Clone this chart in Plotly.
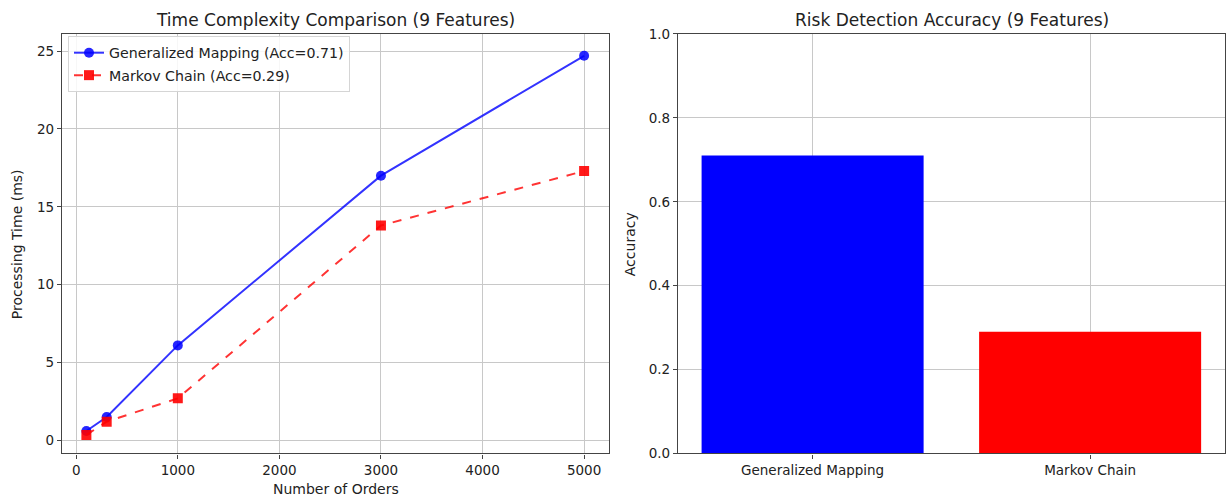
import plotly.graph_objects as go

# ---- data ----
orders = [100, 300, 1000, 3000, 5000]
time_generalized = [0.6, 1.5, 6.1, 17.0, 24.7]
time_markov = [0.35, 1.2, 2.7, 13.8, 17.3]
methods = ["Generalized Mapping", "Markov Chain"]
accuracy = [0.71, 0.29]
bar_colors = ["#0000ff", "#ff0000"]

W, H = 1226, 499
FONT = "DejaVu Sans"
TXT = "#222222"
GRID = "#c8c8c8"
SPINE = "#444444"

# empirical vertical correction (observed render = 5.94 + 0.9714 * spec)
VA, VB = 5.94, 0.9714


def px_x(p):
    return p / W


def px_y(p):
    q = (p - VA) / VB
    return (H - q) / H


fig = go.Figure()

fig.add_trace(go.Scatter(
    x=orders, y=time_generalized, mode="lines+markers",
    name="Generalized Mapping (Acc=0.71)", legendgroup="a",
    line=dict(color="rgba(0,0,255,0.8)", width=2),
    marker=dict(symbol="circle", size=10, color="rgba(0,0,255,0.85)"),
    xaxis="x", yaxis="y",
))
fig.add_trace(go.Scatter(
    x=orders, y=time_markov, mode="lines+markers",
    name="Markov Chain (Acc=0.29)", legendgroup="b",
    line=dict(color="rgba(255,0,0,0.8)", width=2, dash="dash"),
    marker=dict(symbol="square", size=10, color="rgba(255,0,0,0.9)"),
    xaxis="x", yaxis="y",
))
fig.add_trace(go.Bar(
    x=methods, y=accuracy, marker=dict(color=bar_colors, line=dict(width=0)),
    width=0.8, showlegend=False, xaxis="x2", yaxis="y2",
))

axis_common = dict(
    showline=True, linecolor=SPINE, linewidth=1.2, mirror=True,
    showgrid=True, gridcolor=GRID, gridwidth=1,
    ticks="outside", ticklen=4, tickcolor=SPINE,
    tickfont=dict(family=FONT, size=13.5, color=TXT),
    zeroline=False,
)

ydom = [px_y(453), px_y(32)]

fig.update_layout(
    width=W, height=H,
    margin=dict(l=0, r=0, t=0, b=0),
    paper_bgcolor="white", plot_bgcolor="white",
    font=dict(family=FONT, color=TXT),
    xaxis=dict(domain=[px_x(62), px_x(609)], range=[-140, 5245],
               tickvals=[0, 1000, 2000, 3000, 4000, 5000], anchor="y",
               layer="above traces", **axis_common),
    yaxis=dict(domain=ydom, range=[-0.84, 26.1],
               tickvals=[0, 5, 10, 15, 20, 25], anchor="x", **axis_common),
    xaxis2=dict(domain=[px_x(678), px_x(1225)], range=[-0.485, 1.486],
                anchor="y2", layer="above traces", **axis_common),
    yaxis2=dict(domain=ydom, range=[0, 1.0], tickformat=".1f",
                tickvals=[0, 0.2, 0.4, 0.6, 0.8, 1.0], anchor="x2",
                layer="above traces", **axis_common),
    legend=dict(
        x=px_x(68), y=px_y(34), xanchor="left", yanchor="top",
        bgcolor="rgba(255,255,255,0.85)", bordercolor="#d5d5d5", borderwidth=1,
        font=dict(family=FONT, size=14.2, color=TXT),
        traceorder="grouped", tracegroupgap=1, itemwidth=30,
    ),
    annotations=[
        dict(text="Time Complexity Comparison (9 Features)", x=(px_x(62) + px_x(609)) / 2,
             y=px_y(18), xref="paper", yref="paper", showarrow=False,
             font=dict(family=FONT, size=17, color=TXT), xanchor="center", yanchor="middle"),
        dict(text="Risk Detection Accuracy (9 Features)", x=(px_x(678) + px_x(1225)) / 2,
             y=px_y(18), xref="paper", yref="paper", showarrow=False,
             font=dict(family=FONT, size=17, color=TXT), xanchor="center", yanchor="middle"),
        dict(text="Number of Orders", x=(px_x(62) + px_x(609)) / 2, y=px_y(489),
             xref="paper", yref="paper", showarrow=False,
             font=dict(family=FONT, size=14, color=TXT), xanchor="center", yanchor="middle"),
        dict(text="Processing Time (ms)", x=px_x(17), y=px_y(243), textangle=-90,
             xref="paper", yref="paper", showarrow=False,
             font=dict(family=FONT, size=14, color=TXT), xanchor="center", yanchor="middle"),
        dict(text="Accuracy", x=px_x(630), y=px_y(243), textangle=-90,
             xref="paper", yref="paper", showarrow=False,
             font=dict(family=FONT, size=14, color=TXT), xanchor="center", yanchor="middle"),
    ],
)

fig.write_html(
    "out.html",
    config={"displayModeBar": False},
    post_script="document.body.style.margin='0';document.body.style.overflow='hidden';",
)
